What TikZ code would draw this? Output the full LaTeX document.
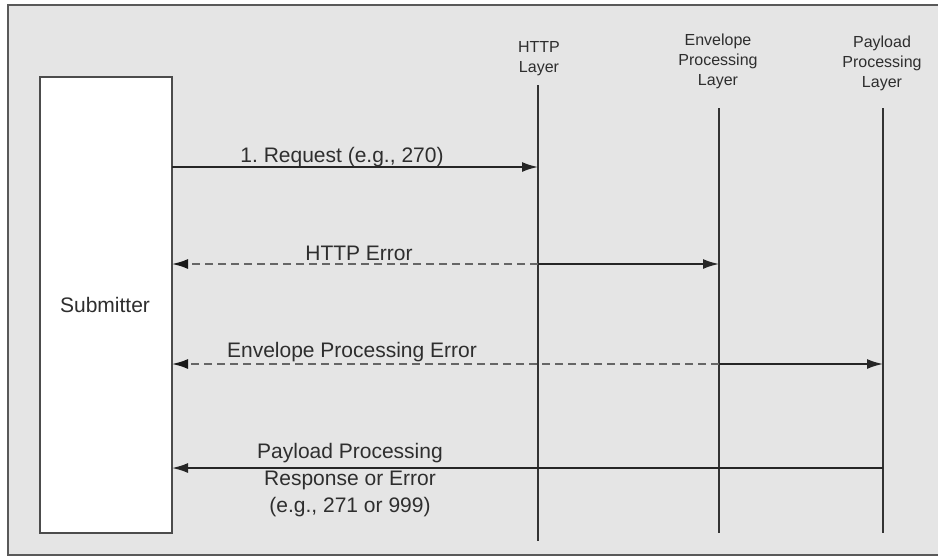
\documentclass[tikz,border=0pt]{standalone}
\usepackage{fontspec}
\setmainfont{Liberation Sans}
\usetikzlibrary{arrows.meta}
\frenchspacing
\begin{document}
\begin{tikzpicture}[x=1pt,y=-1pt,
  lbl/.style={font=\fontsize{21}{27}\selectfont, text=black!82, inner sep=0pt, align=center},
  layer/.style={font=\fontsize{16}{20}\selectfont, text=black!82, inner sep=0pt, align=center},
  life/.style={draw=black!80, line width=1.8pt},
  msg/.style={draw=black!85, line width=1.8pt, -{Latex[length=16pt,width=10pt]}},
  dmsg/.style={draw=black!60, line width=1.8pt, dash pattern=on 8pt off 5pt, -{Latex[length=16pt,width=10pt,color=black!90]}},
]
\useasboundingbox (0,0) rectangle (938,558);
\fill[white] (0,0) rectangle (938,558);
\fill[black!10] (8,5) rectangle (938,555);
\draw[draw=black!65, line width=2pt] (940,5) -- (8,5) -- (8,555) -- (940,555);

% submitter
\node[draw=black!70, line width=1.8pt, fill=white, minimum width=132pt, minimum height=456pt, inner sep=0pt] (sub) at (106,305) {};
\node[lbl] (subt) at (105,305) {Submitter};

% layer labels
\node[layer] (http) at (539,59) {HTTP\\Layer};
\node[layer] (env) at (718,61) {Envelope\\Processing\\Layer};
\node[layer] (pay) at (882,63) {Payload\\Processing\\Layer};

% lifelines
\coordinate (h1) at (538,85);  \coordinate (h2) at (538,541);
\coordinate (e1) at (719,108); \coordinate (e2) at (719,533);
\coordinate (p1) at (883,108); \coordinate (p2) at (883,533);
\draw[life] (h1) -- (h2);
\draw[life] (e1) -- (e2);
\draw[life] (p1) -- (p2);

% message points
\coordinate (s1) at (172,167); \coordinate (hA) at (538,167);
\coordinate (s2) at (172,264); \coordinate (hB) at (538,264); \coordinate (eB) at (719,264);
\coordinate (s3) at (172,364); \coordinate (eC) at (719,364); \coordinate (pC) at (883,364);
\coordinate (s4) at (172,468); \coordinate (pD) at (883,468);

\draw[msg] (s1) -- (hA);
\draw[dmsg] (hB) -- (s2);
\draw[msg] (hB) -- (eB);
\draw[dmsg] (eC) -- (s3);
\draw[msg] (eC) -- (pC);
\draw[msg] (pD) -- (s4);

% message labels
\node[lbl] (m1) at (342,157) {1. Request (e.g., 270)};
\node[lbl] (m2) at (359,253) {HTTP Error};
\node[lbl] (m3) at (352,352) {Envelope Processing Error};
\node[lbl] (m4) at (350,480) {Payload Processing\\Response or Error\\(e.g., 271 or 999)};
\end{tikzpicture}
\end{document}
